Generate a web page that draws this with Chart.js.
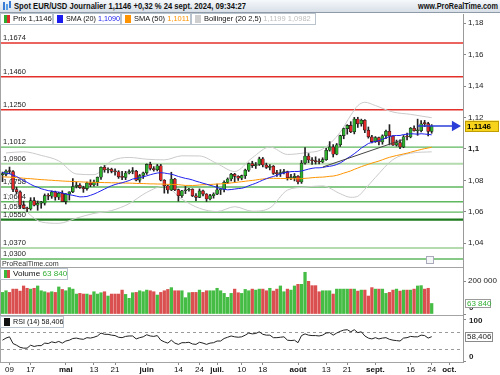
<!DOCTYPE html>
<html>
<head>
<meta charset="utf-8">
<script src="https://cdn.jsdelivr.net/npm/chart.js@4.4.1/dist/chart.umd.min.js"></script>
<style>
  html, body { margin: 0; padding: 0; background: #fff; }
  #wrap { position: relative; width: 500px; height: 375px; overflow: hidden; background: #fff;
          font-family: "Liberation Sans", Arial, sans-serif; color: #111; }
  #c { position: absolute; left: 0; top: 0; }
  .bar { position: absolute; left: 0; top: 0; width: 500px; height: 13px; box-sizing: border-box;
         background: linear-gradient(#f6f8fb, #d8dfe7); border-bottom: 1px solid #8e9aa7; }
  .t { position: absolute; display: inline-block; white-space: nowrap; transform-origin: 0 50%; }
  .box { position: absolute; height: 12px; box-sizing: border-box; border: 1px solid #b9c3cd; background: #fff; }
  .box .t { top: 0; font-size: 8px; line-height: 10px; }
  .sw { position: absolute; top: 1px; left: 3px; width: 6px; height: 8px; }
</style>
</head>
<body>
<div id="wrap">
  <canvas id="c" width="500" height="375"></canvas>

  <div class="bar">
    <div style="position:absolute;left:3px;top:2px;width:2px;height:8px;background:#3a7bd5"></div>
    <div style="position:absolute;left:6px;top:4px;width:2px;height:6px;background:#5aa0e8"></div>
    <div style="position:absolute;left:9px;top:1px;width:2px;height:7px;background:#3a7bd5"></div>
    <span class="t" data-w="232" style="left:14px;top:0;font:bold 9px/12px 'Liberation Sans',Arial,sans-serif">Spot EUR/USD Journalier 1,1146 +0,32 % 24 sept. 2024, 09:34:27</span>
    <span class="t" data-w="80" style="left:418px;top:0;font:bold 9px/12px 'Liberation Sans',Arial,sans-serif">www.ProRealTime.com</span>
  </div>

  <div class="box" style="left:0;top:13px;width:53px">
    <div class="sw" style="background:linear-gradient(90deg,#2eaa2e 50%,#dd2a2a 50%)"></div>
    <span class="t" data-w="39" style="left:12px">Prix 1,1146</span>
  </div>
  <div class="box" style="left:53px;top:13px;width:68px">
    <div class="sw" style="background:#1b1bef"></div>
    <span class="t" data-w="54" style="left:12px">SMA (20) <span style="color:#1b1bef">1,1090</span></span>
  </div>
  <div class="box" style="left:121px;top:13px;width:70px">
    <div class="sw" style="background:#ff9400"></div>
    <span class="t" data-w="55" style="left:12px">SMA (50) <span style="color:#ff9400">1,1011</span></span>
  </div>
  <div class="box" style="left:191px;top:13px;width:125px">
    <div class="sw" style="background:#cfcfcf"></div>
    <span class="t" data-w="107" style="left:12px">Bollinger (20 2,5) <span style="color:#bdbdbd">1,1199 1,0982</span></span>
  </div>

  <span class="t" data-w="57" style="left:2px;top:259px;font-size:8px;line-height:10px;color:#333">ProRealTime.com</span>
  <div style="position:absolute;left:426px;top:256px;width:6px;height:6px;border:1px solid #aab;background:#f4f6f8"></div>

  <div class="box" style="left:0;top:268px;width:68px">
    <div class="sw" style="background:linear-gradient(90deg,#3cb83c 50%,#d94a4a 50%)"></div>
    <span class="t" data-w="54" style="left:12px">Volume <span style="color:#34b034">63 840</span></span>
  </div>
  <div class="box" style="left:0;top:316px;width:64px">
    <div class="sw" style="background:#111"></div>
    <span class="t" data-w="50" style="left:12px">RSI (14) 58,406</span>
  </div>
</div>

<script>
// x axis: one slot per trading day, 5 apr. 2024 = 0 ... 24 sept. 2024 = 122
const tickIdx = [2, 8, 18, 26, 32, 41, 50, 56, 61, 68, 74, 84, 92, 98, 106, 116, 122, 127];
const tickText = ['09', '17', 'mai', '13', '21', 'juin', '14', '24', 'juil.', '10', '18', 'août', '13', '21', 'sept.', '16', '24', 'oct.'];
const monthTicks = ['mai', 'juin', 'juil.', 'août', 'sept.', 'oct.'];

const open = [
  1.0837, 1.0838, 1.0860, 1.0857, 1.0742, 1.0727, 1.0642, 1.0623, 1.0618, 1.0671,
  1.0642, 1.0655, 1.0655, 1.0703, 1.0699, 1.0727, 1.0693, 1.0718, 1.0665, 1.0713,
  1.0727, 1.0761, 1.0770, 1.0754, 1.0748, 1.0783, 1.0771, 1.0790, 1.0820, 1.0884,
  1.0866, 1.0871, 1.0858, 1.0855, 1.0823, 1.0819, 1.0847, 1.0857, 1.0859, 1.0801,
  1.0831, 1.0848, 1.0902, 1.0876, 1.0868, 1.0893, 1.0801, 1.0766, 1.0739, 1.0809,
  1.0741, 1.0703, 1.0734, 1.0739, 1.0744, 1.0702, 1.0692, 1.0733, 1.0713, 1.0682,
  1.0703, 1.0713, 1.0740, 1.0743, 1.0788, 1.0809, 1.0840, 1.0826, 1.0814, 1.0830,
  1.0865, 1.0907, 1.0894, 1.0901, 1.0938, 1.0898, 1.0882, 1.0890, 1.0844, 1.0843,
  1.0850, 1.0857, 1.0817, 1.0817, 1.0826, 1.0790, 1.0910, 1.0955, 1.0930, 1.0925,
  1.0920, 1.0917, 1.0932, 1.0992, 1.1013, 1.0967, 1.1027, 1.1085, 1.1130, 1.1150,
  1.1110, 1.1191, 1.1160, 1.1183, 1.1120, 1.1077, 1.1047, 1.1073, 1.1045, 1.1084,
  1.1113, 1.1083, 1.1025, 1.1041, 1.1013, 1.1078, 1.1076, 1.1132, 1.1116, 1.1116,
  1.1165, 1.1161, 1.1111
];
const high = [
  1.0853, 1.0867, 1.0885, 1.0863, 1.0757, 1.0733, 1.0668, 1.0630, 1.0690, 1.0690,
  1.0669, 1.0667, 1.0714, 1.0716, 1.0733, 1.0732, 1.0724, 1.0734, 1.0717, 1.0728,
  1.0812, 1.0790, 1.0780, 1.0763, 1.0790, 1.0804, 1.0802, 1.0822, 1.0886, 1.0895,
  1.0880, 1.0878, 1.0873, 1.0862, 1.0858, 1.0858, 1.0867, 1.0882, 1.0864, 1.0838,
  1.0853, 1.0905, 1.0916, 1.0888, 1.0902, 1.0902, 1.0805, 1.0771, 1.0852, 1.0813,
  1.0745, 1.0737, 1.0762, 1.0750, 1.0747, 1.0716, 1.0746, 1.0738, 1.0716, 1.0712,
  1.0721, 1.0776, 1.0748, 1.0797, 1.0816, 1.0845, 1.0845, 1.0830, 1.0834, 1.0872,
  1.0911, 1.0922, 1.0914, 1.0948, 1.0946, 1.0910, 1.0900, 1.0895, 1.0864, 1.0869,
  1.0871, 1.0859, 1.0838, 1.0844, 1.0830, 1.0927, 1.1009, 1.0971, 1.0946, 1.0950,
  1.0938, 1.0944, 1.1004, 1.1047, 1.1028, 1.1035, 1.1088, 1.1133, 1.1155, 1.1174,
  1.1201, 1.1202, 1.1190, 1.1187, 1.1140, 1.1087, 1.1079, 1.1076, 1.1090, 1.1121,
  1.1155, 1.1084, 1.1057, 1.1059, 1.1086, 1.1101, 1.1137, 1.1147, 1.1190, 1.1180,
  1.1182, 1.1170, 1.1155
];
const low = [
  1.0792, 1.0829, 1.0842, 1.0729, 1.0715, 1.0622, 1.0620, 1.0601, 1.0611, 1.0638,
  1.0610, 1.0623, 1.0643, 1.0677, 1.0686, 1.0674, 1.0678, 1.0667, 1.0650, 1.0675,
  1.0722, 1.0752, 1.0749, 1.0724, 1.0738, 1.0760, 1.0763, 1.0767, 1.0807, 1.0852,
  1.0847, 1.0848, 1.0834, 1.0813, 1.0805, 1.0805, 1.0842, 1.0842, 1.0796, 1.0788,
  1.0812, 1.0838, 1.0866, 1.0859, 1.0860, 1.0797, 1.0719, 1.0718, 1.0735, 1.0735,
  1.0668, 1.0692, 1.0716, 1.0732, 1.0697, 1.0671, 1.0690, 1.0702, 1.0666, 1.0676,
  1.0687, 1.0709, 1.0710, 1.0726, 1.0781, 1.0796, 1.0789, 1.0800, 1.0804, 1.0812,
  1.0857, 1.0882, 1.0876, 1.0895, 1.0886, 1.0876, 1.0866, 1.0838, 1.0826, 1.0825,
  1.0842, 1.0802, 1.0804, 1.0797, 1.0777, 1.0781, 1.0903, 1.0913, 1.0902, 1.0904,
  1.0905, 1.0912, 1.0927, 1.0986, 1.0949, 1.0963, 1.1016, 1.1065, 1.1094, 1.1104,
  1.1096, 1.1137, 1.1145, 1.1104, 1.1069, 1.1038, 1.1042, 1.1026, 1.1030, 1.1065,
  1.1026, 1.1022, 1.1018, 1.1002, 1.1008, 1.1058, 1.1071, 1.1114, 1.1087, 1.1109,
  1.1142, 1.1083, 1.1100
];
const close = [
  1.0838, 1.0860, 1.0857, 1.0742, 1.0727, 1.0642, 1.0623, 1.0618, 1.0671, 1.0642,
  1.0655, 1.0655, 1.0703, 1.0699, 1.0727, 1.0693, 1.0718, 1.0665, 1.0713, 1.0727,
  1.0761, 1.0770, 1.0754, 1.0748, 1.0783, 1.0771, 1.0790, 1.0820, 1.0884, 1.0866,
  1.0871, 1.0858, 1.0855, 1.0823, 1.0819, 1.0847, 1.0857, 1.0859, 1.0801, 1.0831,
  1.0848, 1.0902, 1.0876, 1.0868, 1.0893, 1.0801, 1.0766, 1.0739, 1.0809, 1.0741,
  1.0703, 1.0734, 1.0739, 1.0744, 1.0702, 1.0692, 1.0733, 1.0713, 1.0682, 1.0703,
  1.0713, 1.0740, 1.0743, 1.0788, 1.0809, 1.0840, 1.0826, 1.0814, 1.0830, 1.0865,
  1.0907, 1.0894, 1.0901, 1.0938, 1.0898, 1.0882, 1.0890, 1.0844, 1.0843, 1.0850,
  1.0857, 1.0817, 1.0817, 1.0826, 1.0790, 1.0910, 1.0955, 1.0930, 1.0925, 1.0920,
  1.0917, 1.0932, 1.0992, 1.1013, 1.0967, 1.1027, 1.1085, 1.1130, 1.1150, 1.1110,
  1.1191, 1.1160, 1.1183, 1.1120, 1.1077, 1.1047, 1.1073, 1.1045, 1.1084, 1.1113,
  1.1083, 1.1025, 1.1041, 1.1013, 1.1078, 1.1076, 1.1132, 1.1116, 1.1116, 1.1160,
  1.1161, 1.1111, 1.1146
];
const volume = [
  131000, 141000, 131000, 151000, 151000, 139000, 170000, 156000, 151000, 156000,
  170000, 141000, 135000, 129000, 135000, 131000, 164000, 149000, 141000, 160000,
  151000, 121000, 125000, 121000, 121000, 115000, 135000, 121000, 129000, 135000,
  109000, 121000, 121000, 121000, 145000, 119000, 95000, 129000, 131000, 141000,
  135000, 145000, 141000, 135000, 115000, 131000, 141000, 149000, 160000, 141000,
  141000, 141000, 99000, 129000, 131000, 131000, 145000, 131000, 141000, 141000,
  141000, 156000, 141000, 125000, 101000, 125000, 151000, 129000, 125000, 149000,
  141000, 151000, 145000, 151000, 151000, 141000, 156000, 139000, 151000, 170000,
  135000, 151000, 145000, 170000, 180000, 180000, 253000, 198000, 172000, 172000,
  135000, 141000, 141000, 141000, 121000, 151000, 151000, 151000, 151000, 151000,
  151000, 139000, 145000, 145000, 109000, 160000, 151000, 151000, 151000, 125000,
  131000, 145000, 151000, 139000, 145000, 145000, 145000, 151000, 170000, 172000,
  151000, 156000, 63840
];
const sma20 = [
  1.0850, 1.0846, 1.0843, 1.0833, 1.0825, 1.0812, 1.0800, 1.0788, 1.0775, 1.0764,
  1.0757, 1.0747, 1.0741, 1.0735, 1.0732, 1.0727, 1.0726, 1.0720, 1.0714, 1.0709,
  1.0705, 1.0700, 1.0695, 1.0696, 1.0698, 1.0705, 1.0713, 1.0723, 1.0734, 1.0745,
  1.0756, 1.0766, 1.0774, 1.0780, 1.0785, 1.0792, 1.0799, 1.0809, 1.0813, 1.0818,
  1.0823, 1.0829, 1.0836, 1.0842, 1.0847, 1.0849, 1.0847, 1.0843, 1.0840, 1.0833,
  1.0825, 1.0819, 1.0813, 1.0809, 1.0803, 1.0795, 1.0789, 1.0782, 1.0776, 1.0769,
  1.0763, 1.0755, 1.0748, 1.0744, 1.0740, 1.0742, 1.0745, 1.0748, 1.0750, 1.0756,
  1.0766, 1.0774, 1.0782, 1.0792, 1.0802, 1.0811, 1.0819, 1.0825, 1.0833, 1.0841,
  1.0848, 1.0852, 1.0856, 1.0857, 1.0857, 1.0860, 1.0866, 1.0872, 1.0877, 1.0880,
  1.0880, 1.0882, 1.0887, 1.0890, 1.0894, 1.0901, 1.0911, 1.0925, 1.0941, 1.0954,
  1.0970, 1.0987, 1.1006, 1.1020, 1.1035, 1.1042, 1.1048, 1.1053, 1.1061, 1.1071,
  1.1079, 1.1084, 1.1086, 1.1086, 1.1092, 1.1094, 1.1097, 1.1096, 1.1094, 1.1097,
  1.1095, 1.1093, 1.1090
];
const sma50 = [
  1.0823, 1.0822, 1.0821, 1.0819, 1.0818, 1.0816, 1.0814, 1.0812, 1.0811, 1.0809,
  1.0807, 1.0805, 1.0804, 1.0802, 1.0801, 1.0799, 1.0798, 1.0796, 1.0795, 1.0794,
  1.0793, 1.0792, 1.0791, 1.0790, 1.0789, 1.0788, 1.0788, 1.0787, 1.0787, 1.0786,
  1.0786, 1.0785, 1.0785, 1.0784, 1.0784, 1.0783, 1.0783, 1.0782, 1.0781, 1.0780,
  1.0780, 1.0779, 1.0778, 1.0778, 1.0777, 1.0777, 1.0776, 1.0775, 1.0775, 1.0774,
  1.0773, 1.07705, 1.07681, 1.07682, 1.07677, 1.07687, 1.07709, 1.07728, 1.0773, 1.07742,
  1.07754, 1.07771, 1.07779, 1.07797, 1.07813, 1.07842, 1.07864, 1.07894, 1.07917, 1.07945,
  1.07974, 1.07999, 1.08028, 1.08066, 1.08089, 1.08111, 1.08131, 1.08136, 1.08128, 1.08125,
  1.08122, 1.08114, 1.08106, 1.08107, 1.08101, 1.08114, 1.08133, 1.08147, 1.08172, 1.0819,
  1.08204, 1.0821, 1.08233, 1.08262, 1.08277, 1.08322, 1.08386, 1.08464, 1.08532, 1.08606,
  1.08704, 1.08789, 1.08878, 1.08953, 1.09028, 1.09099, 1.09167, 1.09233, 1.09314, 1.09396,
  1.0947, 1.09527, 1.09586, 1.09631, 1.09685, 1.09732, 1.09793, 1.09854, 1.09911, 1.0997,
  1.10021, 1.10064, 1.1011
];
// Bollinger (20, 2,5) read at every 5th session or so
const bbIdx = [1, 6, 11, 16, 21, 26, 31, 36, 41, 46, 51, 56, 61, 66, 71, 76, 81, 86, 91, 96, 99, 101, 103, 106, 111, 116, 122];
const bbUpper = [1.09748, 1.09823, 1.09592, 1.09241, 1.08409, 1.08365, 1.09241, 1.09461, 1.09349, 1.09308,
                 1.09566, 1.09556, 1.09074, 1.08567, 1.09439, 1.10126, 1.09653, 1.09757, 1.09994, 1.11064,
                 1.12145, 1.12757, 1.12972, 1.12763, 1.12351, 1.12204, 1.1199];
const bbLower = [1.07178, 1.06177, 1.05356, 1.05271, 1.05599, 1.05899, 1.06081, 1.06521, 1.07239, 1.07638,
                 1.06806, 1.06226, 1.06018, 1.06327, 1.06039, 1.0625, 1.07383, 1.07571, 1.07649, 1.07154,
                 1.06925, 1.06991, 1.07436, 1.08188, 1.09326, 1.09729, 1.0982];
const rsi = [
  50, 55, 58, 42, 38, 33, 31, 31, 38, 35,
  37, 37, 43, 42, 46, 44, 47, 43, 48, 50,
  54, 55, 53, 52, 56, 55, 57, 60, 67, 64,
  64, 62, 61, 57, 56, 59, 60, 60, 53, 56,
  58, 63, 60, 59, 61, 50, 46, 43, 50, 43,
  40, 44, 44, 45, 41, 40, 45, 43, 40, 43,
  44, 48, 48, 54, 57, 60, 58, 57, 58, 62,
  67, 65, 66, 70, 64, 62, 62, 56, 56, 57,
  58, 50, 49, 50, 44, 61, 65, 62, 61, 61,
  60, 62, 67, 68, 62, 67, 71, 74, 75, 70,
  75, 68, 70, 60, 55, 53, 56, 53, 55, 56,
  52, 50, 49, 48, 55, 56, 59, 58, 58, 62,
  61, 55, 58.406
];

// horizontal support / resistance levels drawn on the price pane
const levels = [1.1674, 1.1460, 1.1250, 1.1012, 1.0906, 1.0758, 1.0664, 1.0598, 1.0550, 1.0370, 1.0300];
const levelKind = ['res', 'res', 'res', 'sup', 'zone', 'sup', 'sup', 'sup', 'major', 'zone', 'sup'];
const trendX = [91, 114];
const trendY = [1.0885, 1.1061];
const arrowX = [118, 128.6];
const arrowY = [1.1146, 1.1146];

const priceTicks = [1.04, 1.06, 1.08, 1.10, 1.12, 1.14, 1.16, 1.18];
const volTicks = [0, 100000, 200000];
const rsiTicks = [0, 50, 100];
const rsiGuides = [30, 70];

const levelStyle = {
  res: { color: '#e4302a', width: 1.4 },
  sup: { color: '#5fb85f', width: 1.4 },
  zone: { color: '#b3dbae', width: 2.2 },
  major: { color: '#1e7a1e', width: 2.2 }
};

const FONT = '"Liberation Sans", Arial, sans-serif';
const GREEN = '#2eb02e';
const RED = '#e02828';

const fmtPrice = v => (Math.round(v * 100) / 100).toString().replace('.', ',');
const fmtVol = v => String(Math.round(v)).replace(/\B(?=(\d{3})+(?!\d))/g, ' ');
const up = close.map((c, j) => c >= open[j]);
const last = close.length - 1;

// draws levels, rsi guides and pane borders under the data
const backdrop = {
  id: 'backdrop',
  beforeDatasetsDraw(chart) {
    const { ctx, chartArea, scales } = chart;
    ctx.save();
    ctx.font = '7.5px ' + FONT;
    ctx.textBaseline = 'bottom';
    levels.forEach((v, k) => {
      const st = levelStyle[levelKind[k]];
      const py = scales.y.getPixelForValue(v);
      ctx.strokeStyle = st.color;
      ctx.lineWidth = st.width;
      ctx.beginPath();
      ctx.moveTo(chartArea.left, py);
      ctx.lineTo(chartArea.right, py);
      ctx.stroke();
      ctx.fillStyle = '#222';
      ctx.fillText(v.toFixed(4).replace('.', ','), 3, py - 1.5);
    });
    ctx.setLineDash([3, 3]);
    ctx.strokeStyle = '#9a9a9a';
    ctx.lineWidth = 1;
    rsiGuides.forEach(v => {
      const py = Math.round(scales.rsi.getPixelForValue(v)) + 0.5;
      ctx.beginPath();
      ctx.moveTo(chartArea.left, py);
      ctx.lineTo(chartArea.right, py);
      ctx.stroke();
    });
    ctx.setLineDash([]);
    ctx.strokeStyle = '#a4a4a4';
    [scales.vol.top, scales.rsi.top, chartArea.bottom].forEach(t => {
      const py = Math.round(t) + 0.5;
      ctx.beginPath();
      ctx.moveTo(0, py);
      ctx.lineTo(chartArea.right, py);
      ctx.stroke();
    });
    ctx.beginPath();
    ctx.moveTo(0.5, chartArea.top);
    ctx.lineTo(0.5, chartArea.bottom);
    ctx.stroke();
    ctx.restore();
  }
};

// last-value tags on the right axis and the edge labels of the lower panes
const tags = {
  id: 'tags',
  afterDraw(chart) {
    const { ctx, scales } = chart;
    const x0 = scales.y.left + 2;
    const tag = (py, text, w, h, fill, stroke, color) => {
      ctx.fillStyle = fill;
      ctx.strokeStyle = stroke;
      ctx.lineWidth = 1;
      ctx.fillRect(x0, py - h / 2, w, h);
      ctx.strokeRect(x0 + 0.5, Math.round(py - h / 2) + 0.5, w - 1, h - 1);
      ctx.fillStyle = color;
      ctx.fillText(text, x0 + 2, py + 0.5);
    };
    ctx.save();
    ctx.textBaseline = 'middle';
    ctx.font = 'bold 8px ' + FONT;
    ctx.fillStyle = '#222';
    ctx.fillText('0', scales.vol.left + 6, scales.vol.getPixelForValue(0) - 6);
    ctx.fillText('100', scales.rsi.left + 6, scales.rsi.getPixelForValue(100) + 1.5);
    ctx.fillText('0', scales.rsi.left + 6, scales.rsi.getPixelForValue(0) - 4);
    tag(scales.y.getPixelForValue(close[last]), close[last].toFixed(4).replace('.', ','), 34, 11, '#f7d31b', '#c09e00', '#000');
    ctx.font = '8px ' + FONT;
    tag(scales.vol.getPixelForValue(volume[last]), fmtVol(volume[last]), 26, 9, '#fff', '#9a9a9a', '#33b033');
    tag(scales.rsi.getPixelForValue(rsi[last]), rsi[last].toFixed(3).replace('.', ','), 28, 10, '#fff', '#8a8a8a', '#222');
    ctx.restore();
  }
};

const pts = arr => arr.map((v, j) => ({ x: j, y: v }));
const pairs = (xs, ys) => xs.map((x, k) => ({ x: x, y: ys[k] }));

const yAxis = (extra) => Object.assign({
  position: 'right',
  stack: 'panes',
  grid: { drawOnChartArea: false, tickLength: 3, color: '#888' },
  border: { display: true, color: '#9a9a9a' },
  ticks: { color: '#222', padding: 2, font: { size: 8, family: FONT } },
  afterFit: s => { s.width = 37; }
}, extra);

const chart = new Chart(document.getElementById('c'), {
  type: 'bar',
  data: {
    datasets: [
      {
        label: 'Bollinger haut', type: 'line', yAxisID: 'y', order: 7,
        data: pairs(bbIdx, bbUpper), borderColor: '#cacaca', borderWidth: 1,
        pointRadius: 0, cubicInterpolationMode: 'monotone'
      },
      {
        label: 'Bollinger bas', type: 'line', yAxisID: 'y', order: 7,
        data: pairs(bbIdx, bbLower), borderColor: '#cacaca', borderWidth: 1,
        pointRadius: 0, cubicInterpolationMode: 'monotone'
      },
      {
        label: 'Mèches', yAxisID: 'y', order: 6, grouped: false,
        data: low.map((l, j) => ({ x: j, y: [l, high[j]] })),
        backgroundColor: '#222', barThickness: 1
      },
      {
        label: 'Prix', yAxisID: 'y', order: 5, grouped: false,
        data: open.map((o, j) => ({ x: j, y: [o, close[j]] })),
        backgroundColor: up.map(u => u ? GREEN : RED),
        borderColor: '#1c1c1c', borderWidth: 0.6, borderSkipped: false,
        barThickness: 3, minBarLength: 1
      },
      {
        label: 'SMA (50)', type: 'line', yAxisID: 'y', order: 3,
        data: pts(sma50), borderColor: '#ff9400', borderWidth: 1, pointRadius: 0
      },
      {
        label: 'SMA (20)', type: 'line', yAxisID: 'y', order: 2,
        data: pts(sma20), borderColor: '#2020ee', borderWidth: 1, pointRadius: 0
      },
      {
        label: 'Tendance', type: 'line', yAxisID: 'y', order: 1,
        data: pairs(trendX, trendY), borderColor: '#444', borderWidth: 1, pointRadius: 0
      },
      {
        label: 'Dernier', type: 'line', yAxisID: 'y', order: 0,
        data: pairs(arrowX, arrowY), borderColor: '#2a3ed8', borderWidth: 1.5,
        pointRadius: [0, 4.5], pointStyle: 'triangle', rotation: 90,
        pointBackgroundColor: '#2a3ed8', pointBorderColor: '#2a3ed8'
      },
      {
        label: 'Volume', yAxisID: 'vol', order: 4, grouped: false,
        data: pts(volume),
        backgroundColor: up.map(u => u ? '#45bd45' : '#da4f4f'),
        barThickness: 2.6
      },
      {
        label: 'RSI (14)', type: 'line', yAxisID: 'rsi', order: 1,
        data: pts(rsi), borderColor: '#222', borderWidth: 1, pointRadius: 0
      }
    ]
  },
  options: {
    responsive: false,
    animation: false,
    layout: { padding: { top: 14, left: 1, right: 0, bottom: 0 }, autoPadding: false },
    plugins: { legend: { display: false }, tooltip: { enabled: false } },
    scales: {
      x: {
        type: 'linear',
        position: 'bottom',
        min: -0.42,
        max: 130.9,
        offset: false,
        grid: { drawOnChartArea: false, offset: false, tickLength: 3, color: '#888' },
        border: { display: false },
        ticks: {
          autoSkip: false,
          maxRotation: 0,
          padding: 0,
          color: '#111',
          font: ctx => ({ size: 8, family: FONT, weight: monthTicks.includes(tickText[ctx.index]) ? 'bold' : 'normal' }),
          callback: (v, i) => tickText[i]
        },
        afterBuildTicks: s => { s.ticks = tickIdx.map(v => ({ value: v })); },
        afterFit: s => { s.height = 13; }
      },
      y: yAxis({
        weight: 0, stackWeight: 253, min: 1.0249, max: 1.1859,
        ticks: {
          color: '#222', padding: 2,
          font: ctx => ({ size: 8, family: FONT, weight: ctx.tick && Math.abs(ctx.tick.value - 1.1) < 1e-9 ? 'bold' : 'normal' }),
          callback: v => fmtPrice(v)
        },
        afterBuildTicks: s => { s.ticks = priceTicks.map(v => ({ value: v })); }
      }),
      vol: yAxis({
        weight: 1, stackWeight: 48, min: -6000, max: 285000,
        ticks: { color: '#222', padding: 2, font: { size: 8, family: FONT }, callback: v => (v === 0 ? '' : fmtVol(v)) },
        afterBuildTicks: s => { s.ticks = volTicks.map(v => ({ value: v })); }
      }),
      rsi: yAxis({
        weight: 2, stackWeight: 47, min: -2, max: 110,
        ticks: { color: '#222', padding: 2, font: { size: 8, family: FONT }, callback: v => (v === 50 ? '50' : '') },
        afterBuildTicks: s => { s.ticks = rsiTicks.map(v => ({ value: v })); }
      })
    }
  },
  plugins: [backdrop, tags]
});

// squeeze the header texts to the widths they take in the original
document.querySelectorAll('.t[data-w]').forEach(el => {
  el.style.transform = 'scaleX(' + (+el.dataset.w / el.offsetWidth) + ')';
});
</script>
</body>
</html>
